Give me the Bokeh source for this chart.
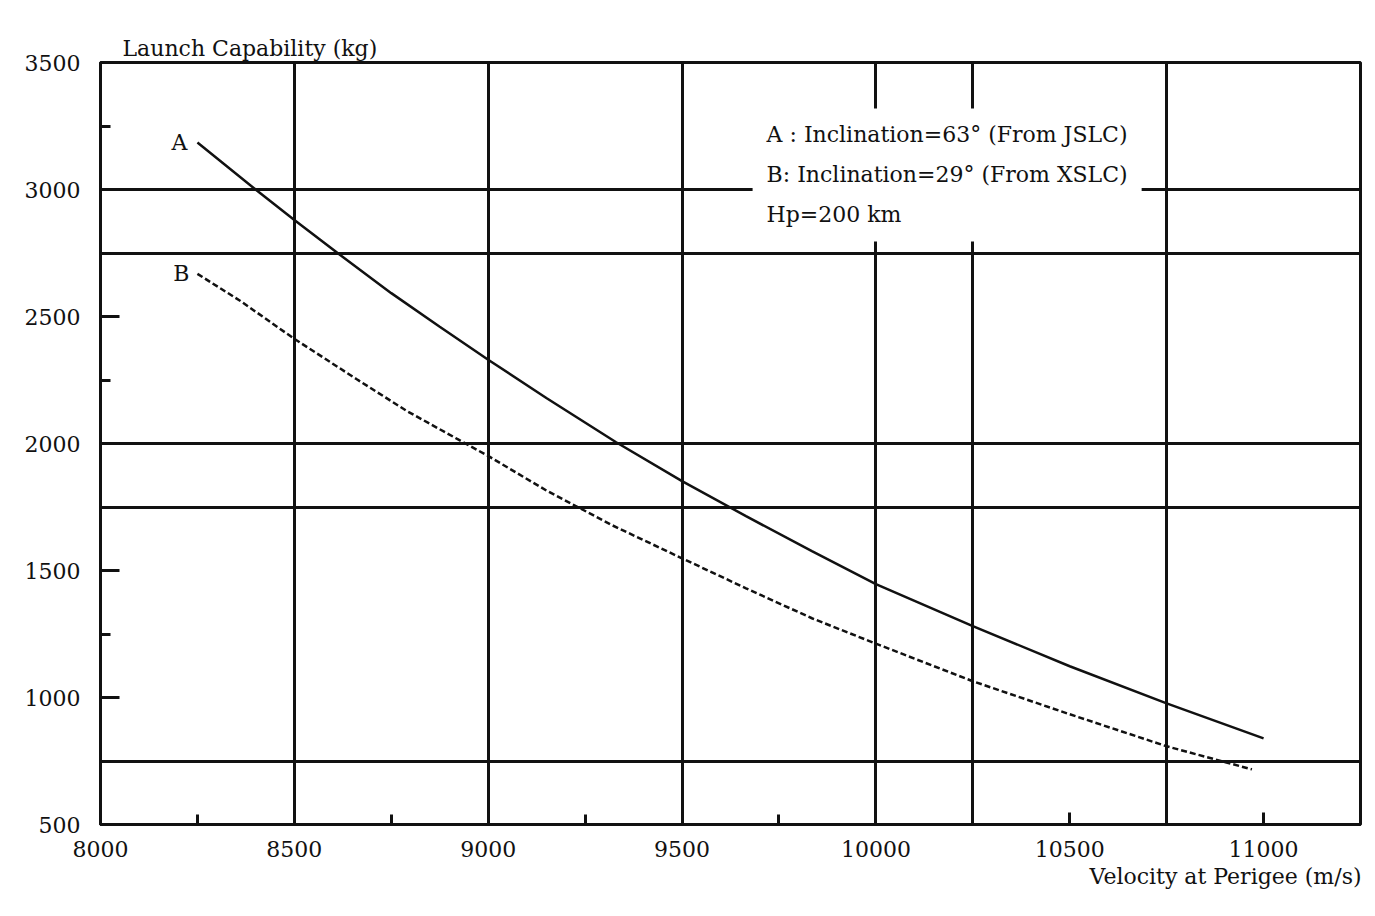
from bokeh.plotting import figure
from bokeh.models import FixedTicker, Grid, Label, Title, Range1d
from bokeh.embed import file_html
from bokeh.resources import INLINE

# Data
a_x = [8250, 8400, 8500, 8620, 8750, 8875, 9000, 9150, 9330, 9500, 9665, 9835, 10000, 10250, 10500, 10750, 11000]
a_y = [3185, 3000, 2880, 2740, 2592, 2460, 2330, 2179, 2005, 1852, 1714, 1576, 1446, 1281, 1123, 977, 839]
b_x = [8250, 8360, 8500, 8660, 8790, 8920, 9000, 9150, 9320, 9500, 9665, 9835, 10000, 10250, 10500, 10750, 10970]
b_y = [2668, 2562, 2412, 2254, 2128, 2018, 1951, 1815, 1678, 1548, 1430, 1312, 1212, 1064, 934, 808, 717]

x_range = (8000, 11250)
y_range = (500, 3500)
x_major = [8000, 8500, 9000, 9500, 10000, 10500, 11000]
x_minor = [8250, 8750, 9250, 9750]
y_major = [500, 1000, 1500, 2000, 2500, 3000, 3500]
y_minor = [750, 1250, 1750, 2250, 2750, 3250]
x_grid = [8500, 9000, 9500, 10000, 10250, 10750]
y_grid = [3000, 2750, 2000, 1750, 750]

y_title = "Launch Capability (kg)"
x_title = "Velocity at Perigee  (m/s)"
legend_lines = ["A : Inclination=63\u00b0 (From JSLC)",
                "B: Inclination=29\u00b0 (From XSLC)",
                "Hp=200 km"]

FONT = "DejaVu Serif"
INK = "#111111"

p = figure(width=1370, height=916, output_backend="svg", toolbar_location=None,
           x_range=Range1d(*x_range), y_range=Range1d(*y_range),
           min_border_left=100, min_border_right=10, min_border_top=62, min_border_bottom=92)
p.background_fill_color = "white"
p.border_fill_color = "white"
p.outline_line_color = INK
p.outline_line_width = 3
p.grid.visible = False

# Titles, each followed by a white spacer that sits next to the frame/axis
p.add_layout(Title(text=y_title, align="left", offset=22, standoff=4,
                   text_font=FONT, text_font_size="22px", text_font_style="normal",
                   text_color=INK), "above")
p.add_layout(Title(text=".", text_color="white", text_font_size="2px", standoff=22), "above")
p.add_layout(Title(text=x_title, align="right", offset=-8, standoff=4,
                   text_font=FONT, text_font_size="22px", text_font_style="normal",
                   text_color=INK), "below")
p.add_layout(Title(text=".", text_color="white", text_font_size="2px", standoff=21), "below")

# Axes
xa = p.xaxis[0]
xa.ticker = FixedTicker(ticks=x_major, minor_ticks=x_minor)
ya = p.yaxis[0]
ya.ticker = FixedTicker(ticks=y_major, minor_ticks=y_minor)
for ax in (xa, ya):
    ax.axis_line_color = INK
    ax.axis_line_width = 3
    ax.major_tick_line_color = INK
    ax.major_tick_line_width = 3
    ax.minor_tick_line_color = INK
    ax.minor_tick_line_width = 3
    ax.major_tick_out = 0
    ax.minor_tick_out = 0
    ax.minor_tick_in = 10
    ax.major_label_text_font = FONT
    ax.major_label_text_font_size = "22px"
    ax.major_label_text_color = INK
xa.major_tick_in = 12
ya.major_tick_in = 19
xa.major_label_standoff = 16
ya.major_label_standoff = 20

# Grid lines
p.add_layout(Grid(dimension=0, ticker=FixedTicker(ticks=x_grid),
                  grid_line_color=INK, grid_line_width=3))
p.add_layout(Grid(dimension=1, ticker=FixedTicker(ticks=y_grid),
                  grid_line_color=INK, grid_line_width=3))

# Curves
p.line(a_x, a_y, line_color=INK, line_width=2.5)
p.line(b_x, b_y, line_color=INK, line_width=2.5, line_dash="6 3")

# Curve labels
p.add_layout(Label(x=a_x[0], y=a_y[0], text="A", x_offset=-10, text_align="right",
                   text_baseline="middle", text_font=FONT, text_font_size="22px",
                   text_color=INK))
p.add_layout(Label(x=b_x[0], y=b_y[0], text="B", x_offset=-8, text_align="right",
                   text_baseline="middle", text_font=FONT, text_font_size="22px",
                   text_color=INK))

# Legend text box
p.add_layout(Label(x=9682, y=3319, text="\n".join(legend_lines),
                   text_align="left", text_baseline="top", anchor="top_left",
                   text_font=FONT, text_font_size="22px", text_color=INK,
                   text_line_height=1.6,
                   background_fill_color="white", background_fill_alpha=1.0,
                   padding=14))

open("out.html", "w").write(file_html(p, INLINE))
